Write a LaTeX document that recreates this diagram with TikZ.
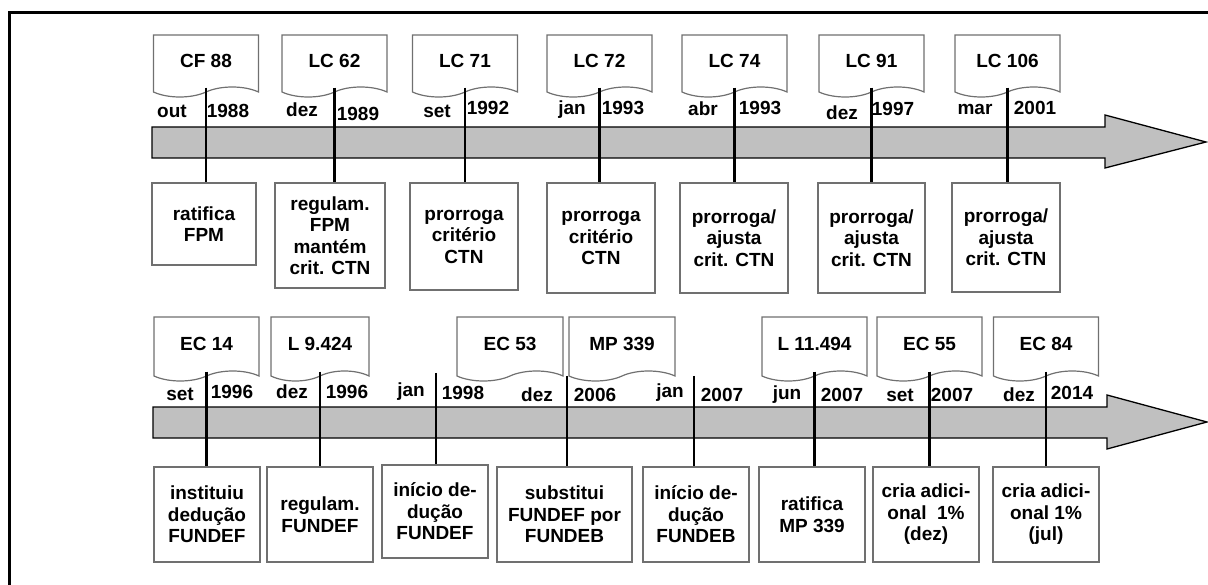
\documentclass[tikz,border=0pt]{standalone}
\usepackage{fontspec}
\setmainfont{Liberation Sans}
\usetikzlibrary{shapes.symbols}
\definecolor{bargray}{HTML}{C0C0C0}
\definecolor{edgegray}{HTML}{707070}
\tikzset{
  every node/.style={font=\fontsize{19}{21.5}\selectfont\bfseries, inner sep=0pt},
  docbox/.style={tape, tape bend top=none, tape bend bottom=in and out, tape bend height=10pt,
     draw=edgegray, line width=1.2pt, minimum width=105pt, minimum height=#1, fill=white},
  docbox/.default=62pt,
  evbox/.style={draw=edgegray, line width=1.2pt, align=center, fill=white},
  conn/.style={line width=2.6pt, black},
  bar/.style={fill=bargray, draw=black, line width=1.3pt, line join=miter},
  frame/.style={line width=3pt, black}
}
\newcommand{\evb}[6]{% name, x0, x1, y0, y1, text
  \node[evbox, minimum width=#3pt-#2pt, minimum height=#5pt-#4pt] (#1) at ({(#2+#3)/2},{(#4+#5)/2}) {#6};}
\begin{document}
\begin{tikzpicture}[x=1pt,y=-1pt]
\useasboundingbox (0,0) rectangle (1208,585);
\draw[frame] (9,585) -- (9,13) -- (1208,13);

% ---------- top timeline ----------
\draw[bar] (152,127) -- (1105,127) -- (1105,115) -- (1206,142) -- (1105,168) -- (1105,158) -- (152,158) -- cycle;

\node[docbox] (tA) at (206,61) {CF 88};
\node[docbox] (tB) at (334.5,61) {LC 62};
\node[docbox] (tC) at (465,61) {LC 71};
\node[docbox] (tD) at (599.5,61) {LC 72};
\node[docbox] (tE) at (734.5,61) {LC 74};
\node[docbox] (tF) at (871.5,61) {LC 91};
\node[docbox] (tG) at (1007.5,61) {LC 106};

\evb{bA}{152}{256}{183}{265}{ratifica\\FPM}
\evb{bB}{275}{385}{183}{288}{regulam.\\FPM\\mantém\\crit. CTN}
\evb{bC}{410}{518}{183}{290}{prorroga\\critério\\CTN}
\evb{bD}{547}{655}{183}{293}{prorroga\\critério\\CTN}
\evb{bE}{680}{788}{183}{293}{prorroga/\\ajusta\\crit. CTN}
\evb{bF}{818}{925}{183}{293}{prorroga/\\ajusta\\crit. CTN}
\evb{bG}{952}{1060}{183}{292}{prorroga/\\ajusta\\crit. CTN}

\foreach \d/\b in {tA/bA,tB/bB,tC/bC,tD/bD,tE/bE,tF/bF,tG/bG}
  \draw[conn] (\d.south) -- (\d.south |- \b.north);

\node (m1) at (172,111) {out};  \node (y1) at (228,111) {1988};
\node (m2) at (302,110) {dez};  \node (y2) at (358,114) {1989};
\node (m3) at (437,111) {set};  \node (y3) at (488,108) {1992};
\node (m4) at (572,110) {jan};  \node (y4) at (623,108) {1993};
\node (m5) at (703,109) {abr};  \node (y5) at (760,108) {1993};
\node (m6) at (842,113) {dez};  \node (y6) at (893,109) {1997};
\node (m7) at (975,109) {mar};  \node (y7) at (1035,108) {2001};

% ---------- bottom timeline ----------
\draw[bar] (153,407) -- (1107,407) -- (1107,395) -- (1207,422) -- (1107,449) -- (1107,438) -- (153,438) -- cycle;

\node[docbox=64pt] (sA) at (206.5,344) {EC 14};
\node[docbox=64pt, minimum width=98pt] (sB) at (320,344) {L 9.424};
\node[docbox=64pt, minimum width=106pt] (sC) at (510,344) {EC 53};
\node[docbox=64pt, minimum width=106pt] (sD) at (622,344) {MP 339};
\node[docbox=64pt] (sE) at (814.5,344) {L 11.494};
\node[docbox=64pt] (sF) at (929.5,344) {EC 55};
\node[docbox=64pt] (sG) at (1046,344) {EC 84};

\evb{cA}{154}{260}{467}{562}{instituiu\\dedução\\FUNDEF}
\evb{cB}{267}{373}{467}{562}{regulam.\\FUNDEF}
\evb{cC}{382}{488}{465}{558}{início de-\\dução\\FUNDEF}
\evb{cD}{497}{632}{467}{562}{substitui\\FUNDEF por\\FUNDEB}
\evb{cE}{643}{749}{467}{562}{início de-\\dução\\FUNDEB}
\evb{cF}{759}{865}{467}{562}{ratifica\\MP 339}
\evb{cG}{873}{979}{467}{562}{cria adici-\\onal\ \ 1\%\\(dez)}
\evb{cH}{993}{1099}{467}{562}{cria adici-\\onal 1\%\\(jul)}

\coordinate (j98) at (436,373);
\coordinate (j07) at (694,376);
\coordinate (mp) at (567,376);
\draw[conn] (sA.south) -- (sA.south |- cA.north);
\draw[conn] (sB.south) -- (sB.south |- cB.north);
\draw[conn] (j98) -- (j98 |- cC.north);
\draw[conn] (mp) -- (mp |- cD.north);
\draw[conn] (j07) -- (j07 |- cE.north);
\draw[conn] (sE.south) -- (sE.south |- cF.north);
\draw[conn] (sF.south) -- (sF.south |- cG.north);
\draw[conn] (sG.south) -- (sG.south |- cH.north);

\node (n1) at (180,394) {set};  \node (z1) at (232,392) {1996};
\node (n2) at (292,392) {dez};  \node (z2) at (347,392) {1996};
\node (n3) at (411,392) {jan};  \node (z3) at (463,393) {1998};
\node (n4) at (537,395) {dez};  \node (z4) at (595,395) {2006};
\node (n5) at (670,393) {jan};  \node (z5) at (722,395) {2007};
\node (n6) at (787,395) {jun};  \node (z6) at (842,395) {2007};
\node (n7) at (900,395) {set};  \node (z7) at (952,395) {2007};
\node (n8) at (1019,395) {dez}; \node (z8) at (1072,393) {2014};
\end{tikzpicture}
\end{document}
